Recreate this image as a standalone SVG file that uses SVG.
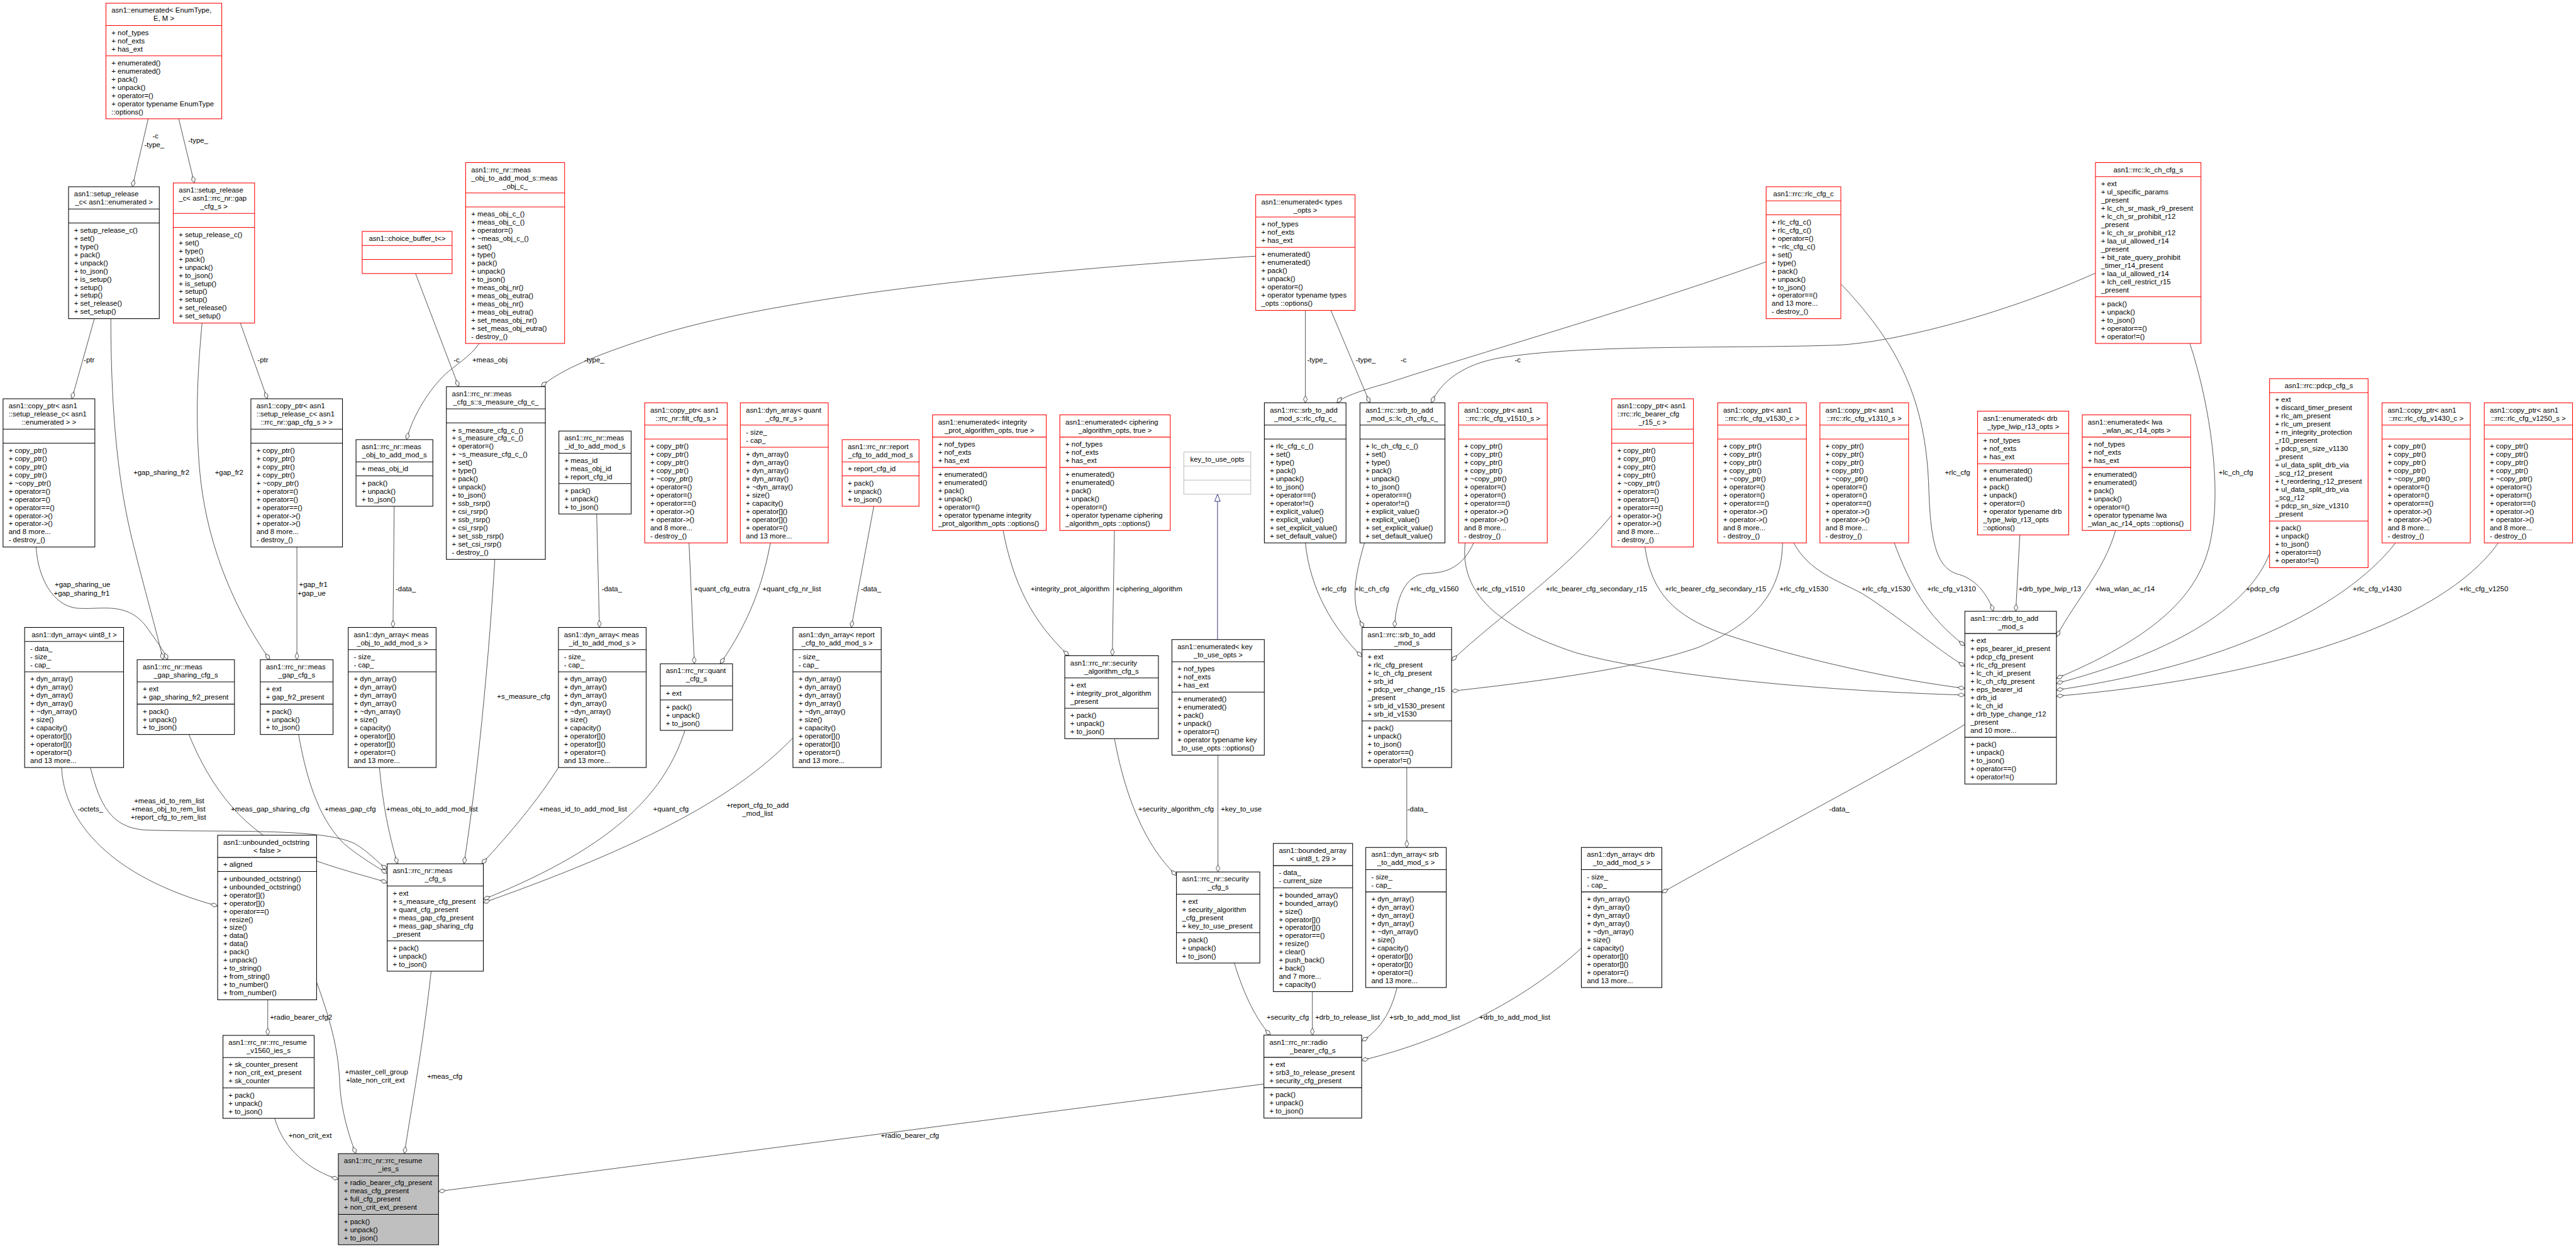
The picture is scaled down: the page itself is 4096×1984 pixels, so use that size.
<svg xmlns="http://www.w3.org/2000/svg" width="4096" height="1984" viewBox="0 0 4096 1984">
<style>
.node rect{fill:#fff;stroke:#000;stroke-width:1.2}
.node path{fill:none;stroke:#000;stroke-width:1.2}
.red rect,.red path{stroke:#ff0000}
.grey rect,.grey path{stroke:#bfbfbf}
.main rect{fill:#bfbfbf}
text{font-family:"Liberation Sans",Arial,Helvetica,sans-serif;font-size:12.9px;fill:#000}
.c{text-anchor:middle}
.edges path{fill:none;stroke:#404040;stroke-width:1;marker-end:url(#od)}
.edges path.inh{stroke:#191970;marker-end:url(#tri)}
.edges text{text-anchor:middle}
</style>
<defs>
<marker id="od" markerUnits="userSpaceOnUse" markerWidth="15" markerHeight="9" refX="14" refY="4.5" orient="auto" viewBox="0 0 15 9"><path d="M1,4.5 L7.5,1 L14,4.5 L7.5,8 Z" fill="#fff" stroke="#404040" stroke-width="1"/></marker>
<marker id="tri" markerUnits="userSpaceOnUse" markerWidth="15" markerHeight="12" refX="14" refY="6" orient="auto" viewBox="0 0 15 12"><path d="M1,1 L14,6 L1,11 Z" fill="#fff" stroke="#191970" stroke-width="1"/></marker>
</defs>
<rect width="4096" height="1984" fill="#fff"/>
<g transform="scale(0.88257)">
<g id="edges" class="edges">
<path d="M267,214 L238.5,336.4"/><text x="280" y="249.6">-c</text><text x="278" y="264.6">-type_</text>
<path d="M322,214 L350,329.6"/><text x="357" y="257.6">-type_</text>
<path d="M170,574 L129.5,718.3"/><text x="160.5" y="653.1">-ptr</text>
<path d="M433,581.9 L481.6,718.3"/><text x="473.5" y="653.1">-ptr</text>
<path d="M748.7,492.7 L826.4,696.5"/><text x="822.6" y="653.1">-c</text>
<path d="M863.4,618.6 C850,640 815,662 802.7,673.7 C775,700 745,745 732.4,791.9"/><text x="882.6" y="653.1">+meas_obj</text>
<path d="M2262.3,461.4 C1900,485 1400,530 1160,611.7 C1080,638 1010,665 975,696.5"/><text x="1070.5" y="653.1">-type_</text>
<path d="M199.7,574 C200,760 215,880 240,980 C260,1060 280,1130 294,1188.3"/><text x="290.7" y="855.6">+gap_sharing_fr2</text>
<path d="M65.1,985.3 C68,1040 95,1090 136.9,1095.3 C180,1100 230,1080 266.3,1132.6 C280,1152 294,1170 302,1188.3"/><text x="148.7" y="1057.7">+gap_sharing_ue</text><text x="147.2" y="1072.7">+gap_sharing_fr1</text>
<path d="M364,581.9 C355,680 352,760 360,850 C370,960 410,1080 486,1188.3"/><text x="412.8" y="855.6">+gap_fr2</text>
<path d="M534.9,985.3 L534.9,1188.3"/><text x="564.5" y="1057.7">+gap_fr1</text><text x="561.5" y="1072.7">+gap_ue</text>
<path d="M710.2,911.9 L708,1130.2"/><text x="731" y="1065.5">-data_</text>
<path d="M1075,925.8 L1080,1130.2"/><text x="1102.3" y="1065.5">-data_</text>
<path d="M1241.4,977.9 L1251,1195.6"/><text x="1300.6" y="1065.5">+quant_cfg_eutra</text>
<path d="M1387.9,977.9 C1375,1050 1350,1120 1297.6,1195.6"/><text x="1426.3" y="1065.5">+quant_cfg_nr_list</text>
<path d="M1574.3,911.9 L1533.6,1130.2"/><text x="1569.1" y="1065.5">-data_</text>
<path d="M1807.3,955.5 C1825,1050 1860,1120 1925.7,1181.1"/><text x="1927.9" y="1065.5">+integrity_prot_algorithm</text>
<path d="M2007.8,955.5 L2004,1181.1"/><text x="2070" y="1065.5">+ciphering_algorithm</text>
<path class="inh" d="M2193.5,1152 L2193.5,890.1"/>
<path d="M2351.8,559.1 L2351.8,725.6"/><text x="2373" y="653.1">-type_</text>
<path d="M2397.7,559.1 L2468,725.6"/><text x="2460.6" y="653.1">-type_</text>
<path d="M3181.9,471.6 C2950,555 2650,640 2500,690 Q2420,712 2408.8,725.6"/><text x="2528.6" y="653.1">-c</text>
<path d="M3775.2,492 C3600,570 3400,620 3300,622 C3100,628 2850,620 2700,645 C2620,660 2590,700 2579,725.6"/><text x="2734.3" y="653.1">-c</text>
<path d="M3316.5,511.3 C3420,620 3470,720 3475,880 C3478,980 3490,1025 3530,1035 C3565,1045 3585,1080 3591,1101.1"/><text x="3526.6" y="855.6">+rlc_cfg</text>
<path d="M3945.3,618.6 C3985,740 4000,880 3985,960 C3970,1060 3900,1140 3704.9,1222"/><text x="4028.2" y="855.6">+lc_ch_cfg</text>
<path d="M2655,977.9 C2635,1020 2610,1032 2570,1033 C2530,1035 2515,1080 2512.4,1130.2"/><text x="2584.1" y="1065.5">+rlc_cfg_v1560</text>
<path d="M2639.6,977.9 C2630,1070 2700,1130 2840,1176 C3000,1220 3300,1245 3539.9,1252"/><text x="2703.2" y="1065.5">+rlc_cfg_v1510</text>
<path d="M2903.7,928 C2820,1030 2700,1110 2615.2,1190"/><text x="2876.3" y="1065.5">+rlc_bearer_cfg_secondary_r15</text>
<path d="M2963.6,985.3 C2975,1070 3020,1110 3100,1140 C3250,1190 3420,1225 3539.9,1240"/><text x="3090.9" y="1065.5">+rlc_bearer_cfg_secondary_r15</text>
<path d="M3211.5,977.9 C3210,1060 3170,1120 3060,1166 C2950,1205 2750,1230 2615.2,1245"/><text x="3249.9" y="1065.5">+rlc_cfg_v1530</text>
<path d="M3231.5,977.9 C3260,1030 3310,1045 3355.8,1069.6 C3420,1110 3490,1170 3539.9,1200"/><text x="3397.9" y="1065.5">+rlc_cfg_v1530</text>
<path d="M3412.7,977.9 C3440,1050 3470,1110 3539.9,1163"/><text x="3516" y="1065.5">+rlc_cfg_v1310</text>
<path d="M3639,963.5 L3631.7,1101.1"/><text x="3693" y="1065.5">+drb_type_lwip_r13</text>
<path d="M3811.4,955.5 C3790,1030 3740,1080 3704.9,1147"/><text x="3828.5" y="1065.5">+lwa_wlan_ac_r14</text>
<path d="M4088.9,997 C4050,1100 3900,1180 3704.9,1231"/><text x="4076.3" y="1065.5">+pdcp_cfg</text>
<path d="M4316,977.9 C4220,1100 4000,1200 3704.9,1243"/><text x="4282.7" y="1065.5">+rlc_cfg_v1430</text>
<path d="M4501,977.9 C4400,1120 4100,1220 3704.9,1254"/><text x="4475" y="1065.5">+rlc_cfg_v1250</text>
<path d="M891.5,1007.6 C880,1200 860,1400 836,1555.9"/><text x="943.3" y="1259.3">+s_measure_cfg</text>
<path d="M111,1382.5 C115,1480 200,1580 392.1,1632"/><text x="162.8" y="1461.5">-octets_</text>
<path d="M162.8,1382.5 C180,1450 200,1490 260,1495 C400,1500 580,1490 640,1520 C665,1535 680,1553 697.6,1566"/><text x="304.8" y="1446.9">+meas_id_to_rem_list</text><text x="303.3" y="1461.5">+meas_obj_to_rem_list</text><text x="303.3" y="1476">+report_cfg_to_rem_list</text>
<path d="M340.3,1323 C380,1420 440,1500 540,1540 C620,1570 670,1580 697.6,1590"/><text x="486.8" y="1461.5">+meas_gap_sharing_cfg</text>
<path d="M537.9,1323 C555,1420 580,1480 620,1520 C650,1545 680,1562 697.6,1573"/><text x="631" y="1461.5">+meas_gap_cfg</text>
<path d="M683.6,1382.5 C690,1450 700,1500 716,1555.9"/><text x="778.3" y="1461.5">+meas_obj_to_add_mod_list</text>
<path d="M1006.1,1382.5 C970,1440 920,1500 868,1555.9"/><text x="1050.5" y="1461.5">+meas_id_to_add_mod_list</text>
<path d="M1234,1315.6 C1200,1420 1120,1520 870.8,1620"/><text x="1208.8" y="1461.5">+quant_cfg</text>
<path d="M1428.6,1329 C1340,1420 1200,1510 870.8,1626"/><text x="1364.9" y="1454.6">+report_cfg_to_add</text><text x="1364.9" y="1469.2">_mod_list</text>
<path d="M482.4,1800.9 L482.4,1865"/><text x="542.3" y="1836.3">+radio_bearer_cfg2</text>
<path d="M570.4,1769 C600,1850 610,1900 612,1950 C614,2000 630,2050 641,2078"/><text x="678.4" y="1935.2">+master_cell_group</text><text x="676.2" y="1950.4">+late_non_crit_ext</text>
<path d="M776.8,1749.4 C760,1900 740,2000 728.7,2078"/><text x="801.2" y="1943.5">+meas_cfg</text>
<path d="M495,2014.4 C510,2070 560,2110 609.6,2124"/><text x="558.6" y="2049.3">+non_crit_ext</text>
<path d="M2277.1,1952.6 L790.1,2146"/><text x="1639.4" y="2049.3">+radio_bearer_cfg</text>
<path d="M2007.8,1330.5 C2030,1450 2070,1530 2119.5,1577"/><text x="2118.8" y="1461.5">+security_algorithm_cfg</text>
<path d="M2194.3,1360.2 L2194.3,1570.6"/><text x="2236.4" y="1461.5">+key_to_use</text>
<path d="M2223.9,1734.7 C2240,1790 2265,1840 2289,1864.5"/><text x="2320" y="1836.3">+security_cfg</text>
<path d="M2364.4,1786.2 L2364.4,1864.5"/><text x="2427.6" y="1836.3">+drb_to_release_list</text>
<path d="M2516.8,1778.8 C2505,1830 2480,1860 2453.2,1875"/><text x="2566.7" y="1836.3">+srb_to_add_mod_list</text>
<path d="M2849,1707.8 C2760,1790 2620,1870 2453.2,1910"/><text x="2729" y="1836.3">+drb_to_add_mod_list</text>
<path d="M2534.5,1382.5 L2534.5,1526.5"/><text x="2553.8" y="1461.5">-data_</text>
<path d="M3539.9,1305 C3400,1390 3150,1520 2994,1608"/><text x="3313.6" y="1461.5">-data_</text>
<path d="M2351.8,977.9 C2360,1060 2400,1130 2453.9,1183"/><text x="2402.9" y="1065.5">+rlc_cfg</text>
<path d="M2458.3,977.9 C2440,1040 2432,1090 2457,1130.2"/><text x="2471.7" y="1065.5">+lc_ch_cfg</text>
</g>

<g id="enumerated_EnumType" class="node red">
<rect x="190.9" y="5.8" width="208.6" height="208.2"/>
<path d="M190.9 45.8H399.5M190.9 100.5H399.5"/>
<text x="200.9" y="23">asn1::enumerated&lt; EnumType,</text>
<text class="c" x="295.2" y="37.7">E, M &gt;</text>
<text x="200.9" y="63"><tspan x="200.9">+ nof_types</tspan><tspan x="200.9" dy="14.7">+ nof_exts</tspan><tspan x="200.9" dy="14.7">+ has_ext</tspan></text>
<text x="200.9" y="117.7"><tspan x="200.9">+ enumerated()</tspan><tspan x="200.9" dy="14.7">+ enumerated()</tspan><tspan x="200.9" dy="14.7">+ pack()</tspan><tspan x="200.9" dy="14.7">+ unpack()</tspan><tspan x="200.9" dy="14.7">+ operator=()</tspan><tspan x="200.9" dy="14.7">+ operator typename EnumType</tspan><tspan x="200.9" dy="14.7">::options()</tspan></text>
</g>

<g id="setup_release_enumerated" class="node">
<rect x="123.5" y="336.4" width="163.5" height="237.6"/>
<path d="M123.5 376.4H287M123.5 401.7H287"/>
<text x="133.5" y="353.6">asn1::setup_release</text>
<text class="c" x="205.25" y="368.3">_c&lt; asn1::enumerated &gt;</text>
<text x="133.5" y="418.9"><tspan x="133.5">+ setup_release_c()</tspan><tspan x="133.5" dy="14.7">+ set()</tspan><tspan x="133.5" dy="14.7">+ type()</tspan><tspan x="133.5" dy="14.7">+ pack()</tspan><tspan x="133.5" dy="14.7">+ unpack()</tspan><tspan x="133.5" dy="14.7">+ to_json()</tspan><tspan x="133.5" dy="14.7">+ is_setup()</tspan><tspan x="133.5" dy="14.7">+ setup()</tspan><tspan x="133.5" dy="14.7">+ setup()</tspan><tspan x="133.5" dy="14.7">+ set_release()</tspan><tspan x="133.5" dy="14.7">+ set_setup()</tspan></text>
</g>

<g id="setup_release_gap" class="node red">
<rect x="312.2" y="329.6" width="146.5" height="252.3"/>
<path d="M312.2 384.3H458.7M312.2 409.6H458.7"/>
<text x="322.2" y="346.8">asn1::setup_release</text>
<text x="322.2" y="361.5">_c&lt; asn1::rrc_nr::gap</text>
<text class="c" x="385.45" y="376.2">_cfg_s &gt;</text>
<text x="322.2" y="426.8"><tspan x="322.2">+ setup_release_c()</tspan><tspan x="322.2" dy="14.7">+ set()</tspan><tspan x="322.2" dy="14.7">+ type()</tspan><tspan x="322.2" dy="14.7">+ pack()</tspan><tspan x="322.2" dy="14.7">+ unpack()</tspan><tspan x="322.2" dy="14.7">+ to_json()</tspan><tspan x="322.2" dy="14.7">+ is_setup()</tspan><tspan x="322.2" dy="14.7">+ setup()</tspan><tspan x="322.2" dy="14.7">+ setup()</tspan><tspan x="322.2" dy="14.7">+ set_release()</tspan><tspan x="322.2" dy="14.7">+ set_setup()</tspan></text>
</g>

<g id="choice_buffer" class="node red">
<rect x="652.5" y="416.8" width="162" height="75.9"/>
<path d="M652.5 442.1H814.5M652.5 467.4H814.5"/>
<text class="c" x="733.5" y="434">asn1::choice_buffer_t&lt;&gt;</text>
</g>

<g id="meas_obj_c" class="node red">
<rect x="838.9" y="292.8" width="178.3" height="325.8"/>
<path d="M838.9 347.5H1017.2M838.9 372.8H1017.2"/>
<text x="848.9" y="310">asn1::rrc_nr::meas</text>
<text x="848.9" y="324.7">_obj_to_add_mod_s::meas</text>
<text class="c" x="928.05" y="339.4">_obj_c_</text>
<text x="848.9" y="390"><tspan x="848.9">+ meas_obj_c_()</tspan><tspan x="848.9" dy="14.7">+ meas_obj_c_()</tspan><tspan x="848.9" dy="14.7">+ operator=()</tspan><tspan x="848.9" dy="14.7">+ ~meas_obj_c_()</tspan><tspan x="848.9" dy="14.7">+ set()</tspan><tspan x="848.9" dy="14.7">+ type()</tspan><tspan x="848.9" dy="14.7">+ pack()</tspan><tspan x="848.9" dy="14.7">+ unpack()</tspan><tspan x="848.9" dy="14.7">+ to_json()</tspan><tspan x="848.9" dy="14.7">+ meas_obj_nr()</tspan><tspan x="848.9" dy="14.7">+ meas_obj_eutra()</tspan><tspan x="848.9" dy="14.7">+ meas_obj_nr()</tspan><tspan x="848.9" dy="14.7">+ meas_obj_eutra()</tspan><tspan x="848.9" dy="14.7">+ set_meas_obj_nr()</tspan><tspan x="848.9" dy="14.7">+ set_meas_obj_eutra()</tspan><tspan x="848.9" dy="14.7">- destroy_()</tspan></text>
</g>

<g id="enumerated_types_opts" class="node red">
<rect x="2262.3" y="350.9" width="179" height="208.2"/>
<path d="M2262.3 390.9H2441.3M2262.3 445.6H2441.3"/>
<text x="2272.3" y="368.1">asn1::enumerated&lt; types</text>
<text class="c" x="2351.8" y="382.8">_opts &gt;</text>
<text x="2272.3" y="408.1"><tspan x="2272.3">+ nof_types</tspan><tspan x="2272.3" dy="14.7">+ nof_exts</tspan><tspan x="2272.3" dy="14.7">+ has_ext</tspan></text>
<text x="2272.3" y="462.8"><tspan x="2272.3">+ enumerated()</tspan><tspan x="2272.3" dy="14.7">+ enumerated()</tspan><tspan x="2272.3" dy="14.7">+ pack()</tspan><tspan x="2272.3" dy="14.7">+ unpack()</tspan><tspan x="2272.3" dy="14.7">+ operator=()</tspan><tspan x="2272.3" dy="14.7">+ operator typename types</tspan><tspan x="2272.3" dy="14.7">_opts ::options()</tspan></text>
</g>

<g id="rlc_cfg_c" class="node red">
<rect x="3181.9" y="336.4" width="134.6" height="237.6"/>
<path d="M3181.9 361.7H3316.5M3181.9 387H3316.5"/>
<text class="c" x="3249.2" y="353.6">asn1::rrc::rlc_cfg_c</text>
<text x="3191.9" y="404.2"><tspan x="3191.9">+ rlc_cfg_c()</tspan><tspan x="3191.9" dy="14.7">+ rlc_cfg_c()</tspan><tspan x="3191.9" dy="14.7">+ operator=()</tspan><tspan x="3191.9" dy="14.7">+ ~rlc_cfg_c()</tspan><tspan x="3191.9" dy="14.7">+ set()</tspan><tspan x="3191.9" dy="14.7">+ type()</tspan><tspan x="3191.9" dy="14.7">+ pack()</tspan><tspan x="3191.9" dy="14.7">+ unpack()</tspan><tspan x="3191.9" dy="14.7">+ to_json()</tspan><tspan x="3191.9" dy="14.7">+ operator==()</tspan><tspan x="3191.9" dy="14.7">and 13 more...</tspan><tspan x="3191.9" dy="14.7">- destroy_()</tspan></text>
</g>

<g id="lc_ch_cfg_s" class="node red">
<rect x="3775.2" y="292.8" width="190.1" height="325.8"/>
<path d="M3775.2 318.1H3965.3M3775.2 534.5H3965.3"/>
<text class="c" x="3870.25" y="310">asn1::rrc::lc_ch_cfg_s</text>
<text x="3785.2" y="335.3"><tspan x="3785.2">+ ext</tspan><tspan x="3785.2" dy="14.7">+ ul_specific_params</tspan><tspan x="3785.2" dy="14.7">_present</tspan><tspan x="3785.2" dy="14.7">+ lc_ch_sr_mask_r9_present</tspan><tspan x="3785.2" dy="14.7">+ lc_ch_sr_prohibit_r12</tspan><tspan x="3785.2" dy="14.7">_present</tspan><tspan x="3785.2" dy="14.7">+ lc_ch_sr_prohibit_r12</tspan><tspan x="3785.2" dy="14.7">+ laa_ul_allowed_r14</tspan><tspan x="3785.2" dy="14.7">_present</tspan><tspan x="3785.2" dy="14.7">+ bit_rate_query_prohibit</tspan><tspan x="3785.2" dy="14.7">_timer_r14_present</tspan><tspan x="3785.2" dy="14.7">+ laa_ul_allowed_r14</tspan><tspan x="3785.2" dy="14.7">+ lch_cell_restrict_r15</tspan><tspan x="3785.2" dy="14.7">_present</tspan></text>
<text x="3785.2" y="551.7"><tspan x="3785.2">+ pack()</tspan><tspan x="3785.2" dy="14.7">+ unpack()</tspan><tspan x="3785.2" dy="14.7">+ to_json()</tspan><tspan x="3785.2" dy="14.7">+ operator==()</tspan><tspan x="3785.2" dy="14.7">+ operator!=()</tspan></text>
</g>

<g id="copy_ptr_setup_release_enumerated" class="node">
<rect x="5.5" y="718.3" width="165.4" height="267"/>
<path d="M5.5 773H170.9M5.5 798.3H170.9"/>
<text x="15.5" y="735.5">asn1::copy_ptr&lt; asn1</text>
<text x="15.5" y="750.2">::setup_release_c&lt; asn1</text>
<text class="c" x="88.2" y="764.9">::enumerated &gt; &gt;</text>
<text x="15.5" y="815.5"><tspan x="15.5">+ copy_ptr()</tspan><tspan x="15.5" dy="14.7">+ copy_ptr()</tspan><tspan x="15.5" dy="14.7">+ copy_ptr()</tspan><tspan x="15.5" dy="14.7">+ copy_ptr()</tspan><tspan x="15.5" dy="14.7">+ ~copy_ptr()</tspan><tspan x="15.5" dy="14.7">+ operator=()</tspan><tspan x="15.5" dy="14.7">+ operator=()</tspan><tspan x="15.5" dy="14.7">+ operator==()</tspan><tspan x="15.5" dy="14.7">+ operator-&gt;()</tspan><tspan x="15.5" dy="14.7">+ operator-&gt;()</tspan><tspan x="15.5" dy="14.7">and 8 more...</tspan><tspan x="15.5" dy="14.7">- destroy_()</tspan></text>
</g>

<g id="copy_ptr_setup_release_gap" class="node">
<rect x="452" y="718.3" width="165" height="267"/>
<path d="M452 773H617M452 798.3H617"/>
<text x="462" y="735.5">asn1::copy_ptr&lt; asn1</text>
<text x="462" y="750.2">::setup_release_c&lt; asn1</text>
<text class="c" x="534.5" y="764.9">::rrc_nr::gap_cfg_s &gt; &gt;</text>
<text x="462" y="815.5"><tspan x="462">+ copy_ptr()</tspan><tspan x="462" dy="14.7">+ copy_ptr()</tspan><tspan x="462" dy="14.7">+ copy_ptr()</tspan><tspan x="462" dy="14.7">+ copy_ptr()</tspan><tspan x="462" dy="14.7">+ ~copy_ptr()</tspan><tspan x="462" dy="14.7">+ operator=()</tspan><tspan x="462" dy="14.7">+ operator=()</tspan><tspan x="462" dy="14.7">+ operator==()</tspan><tspan x="462" dy="14.7">+ operator-&gt;()</tspan><tspan x="462" dy="14.7">+ operator-&gt;()</tspan><tspan x="462" dy="14.7">and 8 more...</tspan><tspan x="462" dy="14.7">- destroy_()</tspan></text>
</g>

<g id="s_measure_cfg_c" class="node">
<rect x="804.2" y="696.5" width="178.3" height="311.1"/>
<path d="M804.2 736.5H982.5M804.2 761.8H982.5"/>
<text x="814.2" y="713.7">asn1::rrc_nr::meas</text>
<text class="c" x="893.35" y="728.4">_cfg_s::s_measure_cfg_c_</text>
<text x="814.2" y="779"><tspan x="814.2">+ s_measure_cfg_c_()</tspan><tspan x="814.2" dy="14.7">+ s_measure_cfg_c_()</tspan><tspan x="814.2" dy="14.7">+ operator=()</tspan><tspan x="814.2" dy="14.7">+ ~s_measure_cfg_c_()</tspan><tspan x="814.2" dy="14.7">+ set()</tspan><tspan x="814.2" dy="14.7">+ type()</tspan><tspan x="814.2" dy="14.7">+ pack()</tspan><tspan x="814.2" dy="14.7">+ unpack()</tspan><tspan x="814.2" dy="14.7">+ to_json()</tspan><tspan x="814.2" dy="14.7">+ ssb_rsrp()</tspan><tspan x="814.2" dy="14.7">+ csi_rsrp()</tspan><tspan x="814.2" dy="14.7">+ ssb_rsrp()</tspan><tspan x="814.2" dy="14.7">+ csi_rsrp()</tspan><tspan x="814.2" dy="14.7">+ set_ssb_rsrp()</tspan><tspan x="814.2" dy="14.7">+ set_csi_rsrp()</tspan><tspan x="814.2" dy="14.7">- destroy_()</tspan></text>
</g>

<g id="meas_obj_to_add_mod_s" class="node">
<rect x="641.4" y="791.9" width="138.4" height="120"/>
<path d="M641.4 831.9H779.8M641.4 857.2H779.8"/>
<text x="651.4" y="809.1">asn1::rrc_nr::meas</text>
<text class="c" x="710.6" y="823.8">_obj_to_add_mod_s</text>
<text x="651.4" y="849.1">+ meas_obj_id</text>
<text x="651.4" y="874.4"><tspan x="651.4">+ pack()</tspan><tspan x="651.4" dy="14.7">+ unpack()</tspan><tspan x="651.4" dy="14.7">+ to_json()</tspan></text>
</g>

<g id="meas_id_to_add_mod_s" class="node">
<rect x="1006.9" y="776.4" width="130.2" height="149.4"/>
<path d="M1006.9 816.4H1137.1M1006.9 871.1H1137.1"/>
<text x="1016.9" y="793.6">asn1::rrc_nr::meas</text>
<text class="c" x="1072" y="808.3">_id_to_add_mod_s</text>
<text x="1016.9" y="833.6"><tspan x="1016.9">+ meas_id</tspan><tspan x="1016.9" dy="14.7">+ meas_obj_id</tspan><tspan x="1016.9" dy="14.7">+ report_cfg_id</tspan></text>
<text x="1016.9" y="888.3"><tspan x="1016.9">+ pack()</tspan><tspan x="1016.9" dy="14.7">+ unpack()</tspan><tspan x="1016.9" dy="14.7">+ to_json()</tspan></text>
</g>

<g id="copy_ptr_filt_cfg_s" class="node red">
<rect x="1161.5" y="725.6" width="148.7" height="252.3"/>
<path d="M1161.5 765.6H1310.2M1161.5 790.9H1310.2"/>
<text x="1171.5" y="742.8">asn1::copy_ptr&lt; asn1</text>
<text class="c" x="1235.85" y="757.5">::rrc_nr::filt_cfg_s &gt;</text>
<text x="1171.5" y="808.1"><tspan x="1171.5">+ copy_ptr()</tspan><tspan x="1171.5" dy="14.7">+ copy_ptr()</tspan><tspan x="1171.5" dy="14.7">+ copy_ptr()</tspan><tspan x="1171.5" dy="14.7">+ copy_ptr()</tspan><tspan x="1171.5" dy="14.7">+ ~copy_ptr()</tspan><tspan x="1171.5" dy="14.7">+ operator=()</tspan><tspan x="1171.5" dy="14.7">+ operator=()</tspan><tspan x="1171.5" dy="14.7">+ operator==()</tspan><tspan x="1171.5" dy="14.7">+ operator-&gt;()</tspan><tspan x="1171.5" dy="14.7">+ operator-&gt;()</tspan><tspan x="1171.5" dy="14.7">and 8 more...</tspan><tspan x="1171.5" dy="14.7">- destroy_()</tspan></text>
</g>

<g id="dyn_array_quant_cfg_nr_s" class="node red">
<rect x="1333.9" y="725.6" width="158.3" height="252.3"/>
<path d="M1333.9 765.6H1492.2M1333.9 805.6H1492.2"/>
<text x="1343.9" y="742.8">asn1::dyn_array&lt; quant</text>
<text class="c" x="1413.05" y="757.5">_cfg_nr_s &gt;</text>
<text x="1343.9" y="782.8"><tspan x="1343.9">- size_</tspan><tspan x="1343.9" dy="14.7">- cap_</tspan></text>
<text x="1343.9" y="822.8"><tspan x="1343.9">+ dyn_array()</tspan><tspan x="1343.9" dy="14.7">+ dyn_array()</tspan><tspan x="1343.9" dy="14.7">+ dyn_array()</tspan><tspan x="1343.9" dy="14.7">+ dyn_array()</tspan><tspan x="1343.9" dy="14.7">+ ~dyn_array()</tspan><tspan x="1343.9" dy="14.7">+ size()</tspan><tspan x="1343.9" dy="14.7">+ capacity()</tspan><tspan x="1343.9" dy="14.7">+ operator[]()</tspan><tspan x="1343.9" dy="14.7">+ operator[]()</tspan><tspan x="1343.9" dy="14.7">+ operator=()</tspan><tspan x="1343.9" dy="14.7">and 13 more...</tspan></text>
</g>

<g id="report_cfg_to_add_mod_s" class="node red">
<rect x="1517.3" y="791.9" width="138.4" height="120"/>
<path d="M1517.3 831.9H1655.7M1517.3 857.2H1655.7"/>
<text x="1527.3" y="809.1">asn1::rrc_nr::report</text>
<text class="c" x="1586.5" y="823.8">_cfg_to_add_mod_s</text>
<text x="1527.3" y="849.1">+ report_cfg_id</text>
<text x="1527.3" y="874.4"><tspan x="1527.3">+ pack()</tspan><tspan x="1527.3" dy="14.7">+ unpack()</tspan><tspan x="1527.3" dy="14.7">+ to_json()</tspan></text>
</g>

<g id="enumerated_integrity" class="node red">
<rect x="1680.1" y="747.3" width="204.9" height="208.2"/>
<path d="M1680.1 787.3H1885M1680.1 842H1885"/>
<text x="1690.1" y="764.5">asn1::enumerated&lt; integrity</text>
<text class="c" x="1782.55" y="779.2">_prot_algorithm_opts, true &gt;</text>
<text x="1690.1" y="804.5"><tspan x="1690.1">+ nof_types</tspan><tspan x="1690.1" dy="14.7">+ nof_exts</tspan><tspan x="1690.1" dy="14.7">+ has_ext</tspan></text>
<text x="1690.1" y="859.2"><tspan x="1690.1">+ enumerated()</tspan><tspan x="1690.1" dy="14.7">+ enumerated()</tspan><tspan x="1690.1" dy="14.7">+ pack()</tspan><tspan x="1690.1" dy="14.7">+ unpack()</tspan><tspan x="1690.1" dy="14.7">+ operator=()</tspan><tspan x="1690.1" dy="14.7">+ operator typename integrity</tspan><tspan x="1690.1" dy="14.7">_prot_algorithm_opts ::options()</tspan></text>
</g>

<g id="enumerated_ciphering" class="node red">
<rect x="1909.4" y="747.3" width="199" height="208.2"/>
<path d="M1909.4 787.3H2108.4M1909.4 842H2108.4"/>
<text x="1919.4" y="764.5">asn1::enumerated&lt; ciphering</text>
<text class="c" x="2008.9" y="779.2">_algorithm_opts, true &gt;</text>
<text x="1919.4" y="804.5"><tspan x="1919.4">+ nof_types</tspan><tspan x="1919.4" dy="14.7">+ nof_exts</tspan><tspan x="1919.4" dy="14.7">+ has_ext</tspan></text>
<text x="1919.4" y="859.2"><tspan x="1919.4">+ enumerated()</tspan><tspan x="1919.4" dy="14.7">+ enumerated()</tspan><tspan x="1919.4" dy="14.7">+ pack()</tspan><tspan x="1919.4" dy="14.7">+ unpack()</tspan><tspan x="1919.4" dy="14.7">+ operator=()</tspan><tspan x="1919.4" dy="14.7">+ operator typename ciphering</tspan><tspan x="1919.4" dy="14.7">_algorithm_opts ::options()</tspan></text>
</g>

<g id="key_to_use_opts" class="node grey">
<rect x="2132.8" y="814.2" width="120.6" height="75.9"/>
<path d="M2132.8 839.5H2253.4M2132.8 864.8H2253.4"/>
<text class="c" x="2193.1" y="831.4">key_to_use_opts</text>
</g>

<g id="srb_rlc_cfg_c" class="node">
<rect x="2277.9" y="725.6" width="147.1" height="252.3"/>
<path d="M2277.9 765.6H2425M2277.9 790.9H2425"/>
<text x="2287.9" y="742.8">asn1::rrc::srb_to_add</text>
<text class="c" x="2351.45" y="757.5">_mod_s::rlc_cfg_c_</text>
<text x="2287.9" y="808.1"><tspan x="2287.9">+ rlc_cfg_c_()</tspan><tspan x="2287.9" dy="14.7">+ set()</tspan><tspan x="2287.9" dy="14.7">+ type()</tspan><tspan x="2287.9" dy="14.7">+ pack()</tspan><tspan x="2287.9" dy="14.7">+ unpack()</tspan><tspan x="2287.9" dy="14.7">+ to_json()</tspan><tspan x="2287.9" dy="14.7">+ operator==()</tspan><tspan x="2287.9" dy="14.7">+ operator!=()</tspan><tspan x="2287.9" dy="14.7">+ explicit_value()</tspan><tspan x="2287.9" dy="14.7">+ explicit_value()</tspan><tspan x="2287.9" dy="14.7">+ set_explicit_value()</tspan><tspan x="2287.9" dy="14.7">+ set_default_value()</tspan></text>
</g>

<g id="srb_lc_ch_cfg_c" class="node">
<rect x="2450.2" y="725.6" width="153.1" height="252.3"/>
<path d="M2450.2 765.6H2603.3M2450.2 790.9H2603.3"/>
<text x="2460.2" y="742.8">asn1::rrc::srb_to_add</text>
<text class="c" x="2526.75" y="757.5">_mod_s::lc_ch_cfg_c_</text>
<text x="2460.2" y="808.1"><tspan x="2460.2">+ lc_ch_cfg_c_()</tspan><tspan x="2460.2" dy="14.7">+ set()</tspan><tspan x="2460.2" dy="14.7">+ type()</tspan><tspan x="2460.2" dy="14.7">+ pack()</tspan><tspan x="2460.2" dy="14.7">+ unpack()</tspan><tspan x="2460.2" dy="14.7">+ to_json()</tspan><tspan x="2460.2" dy="14.7">+ operator==()</tspan><tspan x="2460.2" dy="14.7">+ operator!=()</tspan><tspan x="2460.2" dy="14.7">+ explicit_value()</tspan><tspan x="2460.2" dy="14.7">+ explicit_value()</tspan><tspan x="2460.2" dy="14.7">+ set_explicit_value()</tspan><tspan x="2460.2" dy="14.7">+ set_default_value()</tspan></text>
</g>

<g id="copy_ptr_rlc_cfg_v1510" class="node red">
<rect x="2627.8" y="725.6" width="159.8" height="252.3"/>
<path d="M2627.8 765.6H2787.6M2627.8 790.9H2787.6"/>
<text x="2637.8" y="742.8">asn1::copy_ptr&lt; asn1</text>
<text class="c" x="2707.7" y="757.5">::rrc::rlc_cfg_v1510_s &gt;</text>
<text x="2637.8" y="808.1"><tspan x="2637.8">+ copy_ptr()</tspan><tspan x="2637.8" dy="14.7">+ copy_ptr()</tspan><tspan x="2637.8" dy="14.7">+ copy_ptr()</tspan><tspan x="2637.8" dy="14.7">+ copy_ptr()</tspan><tspan x="2637.8" dy="14.7">+ ~copy_ptr()</tspan><tspan x="2637.8" dy="14.7">+ operator=()</tspan><tspan x="2637.8" dy="14.7">+ operator=()</tspan><tspan x="2637.8" dy="14.7">+ operator==()</tspan><tspan x="2637.8" dy="14.7">+ operator-&gt;()</tspan><tspan x="2637.8" dy="14.7">+ operator-&gt;()</tspan><tspan x="2637.8" dy="14.7">and 8 more...</tspan><tspan x="2637.8" dy="14.7">- destroy_()</tspan></text>
</g>

<g id="copy_ptr_rlc_bearer_cfg_r15" class="node red">
<rect x="2903.7" y="718.3" width="147.2" height="267"/>
<path d="M2903.7 773H3050.9M2903.7 798.3H3050.9"/>
<text x="2913.7" y="735.5">asn1::copy_ptr&lt; asn1</text>
<text x="2913.7" y="750.2">::rrc::rlc_bearer_cfg</text>
<text class="c" x="2977.3" y="764.9">_r15_c &gt;</text>
<text x="2913.7" y="815.5"><tspan x="2913.7">+ copy_ptr()</tspan><tspan x="2913.7" dy="14.7">+ copy_ptr()</tspan><tspan x="2913.7" dy="14.7">+ copy_ptr()</tspan><tspan x="2913.7" dy="14.7">+ copy_ptr()</tspan><tspan x="2913.7" dy="14.7">+ ~copy_ptr()</tspan><tspan x="2913.7" dy="14.7">+ operator=()</tspan><tspan x="2913.7" dy="14.7">+ operator=()</tspan><tspan x="2913.7" dy="14.7">+ operator==()</tspan><tspan x="2913.7" dy="14.7">+ operator-&gt;()</tspan><tspan x="2913.7" dy="14.7">+ operator-&gt;()</tspan><tspan x="2913.7" dy="14.7">and 8 more...</tspan><tspan x="2913.7" dy="14.7">- destroy_()</tspan></text>
</g>

<g id="copy_ptr_rlc_cfg_v1530" class="node red">
<rect x="3094.6" y="725.6" width="159.8" height="252.3"/>
<path d="M3094.6 765.6H3254.4M3094.6 790.9H3254.4"/>
<text x="3104.6" y="742.8">asn1::copy_ptr&lt; asn1</text>
<text class="c" x="3174.5" y="757.5">::rrc::rlc_cfg_v1530_c &gt;</text>
<text x="3104.6" y="808.1"><tspan x="3104.6">+ copy_ptr()</tspan><tspan x="3104.6" dy="14.7">+ copy_ptr()</tspan><tspan x="3104.6" dy="14.7">+ copy_ptr()</tspan><tspan x="3104.6" dy="14.7">+ copy_ptr()</tspan><tspan x="3104.6" dy="14.7">+ ~copy_ptr()</tspan><tspan x="3104.6" dy="14.7">+ operator=()</tspan><tspan x="3104.6" dy="14.7">+ operator=()</tspan><tspan x="3104.6" dy="14.7">+ operator==()</tspan><tspan x="3104.6" dy="14.7">+ operator-&gt;()</tspan><tspan x="3104.6" dy="14.7">+ operator-&gt;()</tspan><tspan x="3104.6" dy="14.7">and 8 more...</tspan><tspan x="3104.6" dy="14.7">- destroy_()</tspan></text>
</g>

<g id="copy_ptr_rlc_cfg_v1310" class="node red">
<rect x="3278.8" y="725.6" width="159.8" height="252.3"/>
<path d="M3278.8 765.6H3438.6M3278.8 790.9H3438.6"/>
<text x="3288.8" y="742.8">asn1::copy_ptr&lt; asn1</text>
<text class="c" x="3358.7" y="757.5">::rrc::rlc_cfg_v1310_s &gt;</text>
<text x="3288.8" y="808.1"><tspan x="3288.8">+ copy_ptr()</tspan><tspan x="3288.8" dy="14.7">+ copy_ptr()</tspan><tspan x="3288.8" dy="14.7">+ copy_ptr()</tspan><tspan x="3288.8" dy="14.7">+ copy_ptr()</tspan><tspan x="3288.8" dy="14.7">+ ~copy_ptr()</tspan><tspan x="3288.8" dy="14.7">+ operator=()</tspan><tspan x="3288.8" dy="14.7">+ operator=()</tspan><tspan x="3288.8" dy="14.7">+ operator==()</tspan><tspan x="3288.8" dy="14.7">+ operator-&gt;()</tspan><tspan x="3288.8" dy="14.7">+ operator-&gt;()</tspan><tspan x="3288.8" dy="14.7">and 8 more...</tspan><tspan x="3288.8" dy="14.7">- destroy_()</tspan></text>
</g>

<g id="enumerated_drb_type_lwip" class="node red">
<rect x="3562.9" y="740.6" width="164.2" height="222.9"/>
<path d="M3562.9 780.6H3727.1M3562.9 835.3H3727.1"/>
<text x="3572.9" y="757.8">asn1::enumerated&lt; drb</text>
<text class="c" x="3645" y="772.5">_type_lwip_r13_opts &gt;</text>
<text x="3572.9" y="797.8"><tspan x="3572.9">+ nof_types</tspan><tspan x="3572.9" dy="14.7">+ nof_exts</tspan><tspan x="3572.9" dy="14.7">+ has_ext</tspan></text>
<text x="3572.9" y="852.5"><tspan x="3572.9">+ enumerated()</tspan><tspan x="3572.9" dy="14.7">+ enumerated()</tspan><tspan x="3572.9" dy="14.7">+ pack()</tspan><tspan x="3572.9" dy="14.7">+ unpack()</tspan><tspan x="3572.9" dy="14.7">+ operator=()</tspan><tspan x="3572.9" dy="14.7">+ operator typename drb</tspan><tspan x="3572.9" dy="14.7">_type_lwip_r13_opts</tspan><tspan x="3572.9" dy="14.7">::options()</tspan></text>
</g>

<g id="enumerated_lwa_wlan_ac" class="node red">
<rect x="3751.5" y="747.3" width="195.3" height="208.2"/>
<path d="M3751.5 787.3H3946.8M3751.5 842H3946.8"/>
<text x="3761.5" y="764.5">asn1::enumerated&lt; lwa</text>
<text class="c" x="3849.15" y="779.2">_wlan_ac_r14_opts &gt;</text>
<text x="3761.5" y="804.5"><tspan x="3761.5">+ nof_types</tspan><tspan x="3761.5" dy="14.7">+ nof_exts</tspan><tspan x="3761.5" dy="14.7">+ has_ext</tspan></text>
<text x="3761.5" y="859.2"><tspan x="3761.5">+ enumerated()</tspan><tspan x="3761.5" dy="14.7">+ enumerated()</tspan><tspan x="3761.5" dy="14.7">+ pack()</tspan><tspan x="3761.5" dy="14.7">+ unpack()</tspan><tspan x="3761.5" dy="14.7">+ operator=()</tspan><tspan x="3761.5" dy="14.7">+ operator typename lwa</tspan><tspan x="3761.5" dy="14.7">_wlan_ac_r14_opts ::options()</tspan></text>
</g>

<g id="pdcp_cfg_s" class="node red">
<rect x="4088.9" y="682" width="177.5" height="340.5"/>
<path d="M4088.9 707.3H4266.4M4088.9 938.4H4266.4"/>
<text class="c" x="4177.65" y="699.2">asn1::rrc::pdcp_cfg_s</text>
<text x="4098.9" y="724.5"><tspan x="4098.9">+ ext</tspan><tspan x="4098.9" dy="14.7">+ discard_timer_present</tspan><tspan x="4098.9" dy="14.7">+ rlc_am_present</tspan><tspan x="4098.9" dy="14.7">+ rlc_um_present</tspan><tspan x="4098.9" dy="14.7">+ rn_integrity_protection</tspan><tspan x="4098.9" dy="14.7">_r10_present</tspan><tspan x="4098.9" dy="14.7">+ pdcp_sn_size_v1130</tspan><tspan x="4098.9" dy="14.7">_present</tspan><tspan x="4098.9" dy="14.7">+ ul_data_split_drb_via</tspan><tspan x="4098.9" dy="14.7">_scg_r12_present</tspan><tspan x="4098.9" dy="14.7">+ t_reordering_r12_present</tspan><tspan x="4098.9" dy="14.7">+ ul_data_split_drb_via</tspan><tspan x="4098.9" dy="14.7">_scg_r12</tspan><tspan x="4098.9" dy="14.7">+ pdcp_sn_size_v1310</tspan><tspan x="4098.9" dy="14.7">_present</tspan></text>
<text x="4098.9" y="955.6"><tspan x="4098.9">+ pack()</tspan><tspan x="4098.9" dy="14.7">+ unpack()</tspan><tspan x="4098.9" dy="14.7">+ to_json()</tspan><tspan x="4098.9" dy="14.7">+ operator==()</tspan><tspan x="4098.9" dy="14.7">+ operator!=()</tspan></text>
</g>

<g id="copy_ptr_rlc_cfg_v1430" class="node red">
<rect x="4291.6" y="725.6" width="159" height="252.3"/>
<path d="M4291.6 765.6H4450.6M4291.6 790.9H4450.6"/>
<text x="4301.6" y="742.8">asn1::copy_ptr&lt; asn1</text>
<text class="c" x="4371.1" y="757.5">::rrc::rlc_cfg_v1430_c &gt;</text>
<text x="4301.6" y="808.1"><tspan x="4301.6">+ copy_ptr()</tspan><tspan x="4301.6" dy="14.7">+ copy_ptr()</tspan><tspan x="4301.6" dy="14.7">+ copy_ptr()</tspan><tspan x="4301.6" dy="14.7">+ copy_ptr()</tspan><tspan x="4301.6" dy="14.7">+ ~copy_ptr()</tspan><tspan x="4301.6" dy="14.7">+ operator=()</tspan><tspan x="4301.6" dy="14.7">+ operator=()</tspan><tspan x="4301.6" dy="14.7">+ operator==()</tspan><tspan x="4301.6" dy="14.7">+ operator-&gt;()</tspan><tspan x="4301.6" dy="14.7">+ operator-&gt;()</tspan><tspan x="4301.6" dy="14.7">and 8 more...</tspan><tspan x="4301.6" dy="14.7">- destroy_()</tspan></text>
</g>

<g id="copy_ptr_rlc_cfg_v1250" class="node red">
<rect x="4475.8" y="725.6" width="159" height="252.3"/>
<path d="M4475.8 765.6H4634.8M4475.8 790.9H4634.8"/>
<text x="4485.8" y="742.8">asn1::copy_ptr&lt; asn1</text>
<text class="c" x="4555.3" y="757.5">::rrc::rlc_cfg_v1250_s &gt;</text>
<text x="4485.8" y="808.1"><tspan x="4485.8">+ copy_ptr()</tspan><tspan x="4485.8" dy="14.7">+ copy_ptr()</tspan><tspan x="4485.8" dy="14.7">+ copy_ptr()</tspan><tspan x="4485.8" dy="14.7">+ copy_ptr()</tspan><tspan x="4485.8" dy="14.7">+ ~copy_ptr()</tspan><tspan x="4485.8" dy="14.7">+ operator=()</tspan><tspan x="4485.8" dy="14.7">+ operator=()</tspan><tspan x="4485.8" dy="14.7">+ operator==()</tspan><tspan x="4485.8" dy="14.7">+ operator-&gt;()</tspan><tspan x="4485.8" dy="14.7">+ operator-&gt;()</tspan><tspan x="4485.8" dy="14.7">and 8 more...</tspan><tspan x="4485.8" dy="14.7">- destroy_()</tspan></text>
</g>

<g id="dyn_array_uint8" class="node">
<rect x="44.4" y="1130.2" width="178.3" height="252.3"/>
<path d="M44.4 1155.5H222.7M44.4 1210.2H222.7"/>
<text class="c" x="133.55" y="1147.4">asn1::dyn_array&lt; uint8_t &gt;</text>
<text x="54.4" y="1172.7"><tspan x="54.4">- data_</tspan><tspan x="54.4" dy="14.7">- size_</tspan><tspan x="54.4" dy="14.7">- cap_</tspan></text>
<text x="54.4" y="1227.4"><tspan x="54.4">+ dyn_array()</tspan><tspan x="54.4" dy="14.7">+ dyn_array()</tspan><tspan x="54.4" dy="14.7">+ dyn_array()</tspan><tspan x="54.4" dy="14.7">+ dyn_array()</tspan><tspan x="54.4" dy="14.7">+ ~dyn_array()</tspan><tspan x="54.4" dy="14.7">+ size()</tspan><tspan x="54.4" dy="14.7">+ capacity()</tspan><tspan x="54.4" dy="14.7">+ operator[]()</tspan><tspan x="54.4" dy="14.7">+ operator[]()</tspan><tspan x="54.4" dy="14.7">+ operator=()</tspan><tspan x="54.4" dy="14.7">and 13 more...</tspan></text>
</g>

<g id="meas_gap_sharing_cfg_s" class="node">
<rect x="247.1" y="1188.3" width="175.3" height="134.7"/>
<path d="M247.1 1228.3H422.4M247.1 1268.3H422.4"/>
<text x="257.1" y="1205.5">asn1::rrc_nr::meas</text>
<text class="c" x="334.75" y="1220.2">_gap_sharing_cfg_s</text>
<text x="257.1" y="1245.5"><tspan x="257.1">+ ext</tspan><tspan x="257.1" dy="14.7">+ gap_sharing_fr2_present</tspan></text>
<text x="257.1" y="1285.5"><tspan x="257.1">+ pack()</tspan><tspan x="257.1" dy="14.7">+ unpack()</tspan><tspan x="257.1" dy="14.7">+ to_json()</tspan></text>
</g>

<g id="meas_gap_cfg_s" class="node">
<rect x="469" y="1188.3" width="131" height="134.7"/>
<path d="M469 1228.3H600M469 1268.3H600"/>
<text x="479" y="1205.5">asn1::rrc_nr::meas</text>
<text class="c" x="534.5" y="1220.2">_gap_cfg_s</text>
<text x="479" y="1245.5"><tspan x="479">+ ext</tspan><tspan x="479" dy="14.7">+ gap_fr2_present</tspan></text>
<text x="479" y="1285.5"><tspan x="479">+ pack()</tspan><tspan x="479" dy="14.7">+ unpack()</tspan><tspan x="479" dy="14.7">+ to_json()</tspan></text>
</g>

<g id="dyn_array_meas_obj" class="node">
<rect x="627.4" y="1130.2" width="158.3" height="252.3"/>
<path d="M627.4 1170.2H785.7M627.4 1210.2H785.7"/>
<text x="637.4" y="1147.4">asn1::dyn_array&lt; meas</text>
<text class="c" x="706.55" y="1162.1">_obj_to_add_mod_s &gt;</text>
<text x="637.4" y="1187.4"><tspan x="637.4">- size_</tspan><tspan x="637.4" dy="14.7">- cap_</tspan></text>
<text x="637.4" y="1227.4"><tspan x="637.4">+ dyn_array()</tspan><tspan x="637.4" dy="14.7">+ dyn_array()</tspan><tspan x="637.4" dy="14.7">+ dyn_array()</tspan><tspan x="637.4" dy="14.7">+ dyn_array()</tspan><tspan x="637.4" dy="14.7">+ ~dyn_array()</tspan><tspan x="637.4" dy="14.7">+ size()</tspan><tspan x="637.4" dy="14.7">+ capacity()</tspan><tspan x="637.4" dy="14.7">+ operator[]()</tspan><tspan x="637.4" dy="14.7">+ operator[]()</tspan><tspan x="637.4" dy="14.7">+ operator=()</tspan><tspan x="637.4" dy="14.7">and 13 more...</tspan></text>
</g>

<g id="dyn_array_meas_id" class="node">
<rect x="1006.1" y="1130.2" width="158" height="252.3"/>
<path d="M1006.1 1170.2H1164.1M1006.1 1210.2H1164.1"/>
<text x="1016.1" y="1147.4">asn1::dyn_array&lt; meas</text>
<text class="c" x="1085.1" y="1162.1">_id_to_add_mod_s &gt;</text>
<text x="1016.1" y="1187.4"><tspan x="1016.1">- size_</tspan><tspan x="1016.1" dy="14.7">- cap_</tspan></text>
<text x="1016.1" y="1227.4"><tspan x="1016.1">+ dyn_array()</tspan><tspan x="1016.1" dy="14.7">+ dyn_array()</tspan><tspan x="1016.1" dy="14.7">+ dyn_array()</tspan><tspan x="1016.1" dy="14.7">+ dyn_array()</tspan><tspan x="1016.1" dy="14.7">+ ~dyn_array()</tspan><tspan x="1016.1" dy="14.7">+ size()</tspan><tspan x="1016.1" dy="14.7">+ capacity()</tspan><tspan x="1016.1" dy="14.7">+ operator[]()</tspan><tspan x="1016.1" dy="14.7">+ operator[]()</tspan><tspan x="1016.1" dy="14.7">+ operator=()</tspan><tspan x="1016.1" dy="14.7">and 13 more...</tspan></text>
</g>

<g id="quant_cfg_s" class="node">
<rect x="1189.6" y="1195.6" width="130.2" height="120"/>
<path d="M1189.6 1235.6H1319.8M1189.6 1260.9H1319.8"/>
<text x="1199.6" y="1212.8">asn1::rrc_nr::quant</text>
<text class="c" x="1254.7" y="1227.5">_cfg_s</text>
<text x="1199.6" y="1252.8">+ ext</text>
<text x="1199.6" y="1278.1"><tspan x="1199.6">+ pack()</tspan><tspan x="1199.6" dy="14.7">+ unpack()</tspan><tspan x="1199.6" dy="14.7">+ to_json()</tspan></text>
</g>

<g id="dyn_array_report_cfg" class="node">
<rect x="1428.6" y="1130.2" width="159" height="252.3"/>
<path d="M1428.6 1170.2H1587.6M1428.6 1210.2H1587.6"/>
<text x="1438.6" y="1147.4">asn1::dyn_array&lt; report</text>
<text class="c" x="1508.1" y="1162.1">_cfg_to_add_mod_s &gt;</text>
<text x="1438.6" y="1187.4"><tspan x="1438.6">- size_</tspan><tspan x="1438.6" dy="14.7">- cap_</tspan></text>
<text x="1438.6" y="1227.4"><tspan x="1438.6">+ dyn_array()</tspan><tspan x="1438.6" dy="14.7">+ dyn_array()</tspan><tspan x="1438.6" dy="14.7">+ dyn_array()</tspan><tspan x="1438.6" dy="14.7">+ dyn_array()</tspan><tspan x="1438.6" dy="14.7">+ ~dyn_array()</tspan><tspan x="1438.6" dy="14.7">+ size()</tspan><tspan x="1438.6" dy="14.7">+ capacity()</tspan><tspan x="1438.6" dy="14.7">+ operator[]()</tspan><tspan x="1438.6" dy="14.7">+ operator[]()</tspan><tspan x="1438.6" dy="14.7">+ operator=()</tspan><tspan x="1438.6" dy="14.7">and 13 more...</tspan></text>
</g>

<g id="security_algorithm_cfg_s" class="node">
<rect x="1918.3" y="1181.1" width="168.7" height="149.4"/>
<path d="M1918.3 1221.1H2087M1918.3 1275.8H2087"/>
<text x="1928.3" y="1198.3">asn1::rrc_nr::security</text>
<text class="c" x="2002.65" y="1213">_algorithm_cfg_s</text>
<text x="1928.3" y="1238.3"><tspan x="1928.3">+ ext</tspan><tspan x="1928.3" dy="14.7">+ integrity_prot_algorithm</tspan><tspan x="1928.3" dy="14.7">_present</tspan></text>
<text x="1928.3" y="1293"><tspan x="1928.3">+ pack()</tspan><tspan x="1928.3" dy="14.7">+ unpack()</tspan><tspan x="1928.3" dy="14.7">+ to_json()</tspan></text>
</g>

<g id="enumerated_key_to_use" class="node">
<rect x="2111.4" y="1152" width="166.4" height="208.2"/>
<path d="M2111.4 1192H2277.8M2111.4 1246.7H2277.8"/>
<text x="2121.4" y="1169.2">asn1::enumerated&lt; key</text>
<text class="c" x="2194.6" y="1183.9">_to_use_opts &gt;</text>
<text x="2121.4" y="1209.2"><tspan x="2121.4">+ nof_types</tspan><tspan x="2121.4" dy="14.7">+ nof_exts</tspan><tspan x="2121.4" dy="14.7">+ has_ext</tspan></text>
<text x="2121.4" y="1263.9"><tspan x="2121.4">+ enumerated()</tspan><tspan x="2121.4" dy="14.7">+ enumerated()</tspan><tspan x="2121.4" dy="14.7">+ pack()</tspan><tspan x="2121.4" dy="14.7">+ unpack()</tspan><tspan x="2121.4" dy="14.7">+ operator=()</tspan><tspan x="2121.4" dy="14.7">+ operator typename key</tspan><tspan x="2121.4" dy="14.7">_to_use_opts ::options()</tspan></text>
</g>

<g id="srb_to_add_mod_s" class="node">
<rect x="2453.9" y="1130.2" width="161.3" height="252.3"/>
<path d="M2453.9 1170.2H2615.2M2453.9 1298.4H2615.2"/>
<text x="2463.9" y="1147.4">asn1::rrc::srb_to_add</text>
<text class="c" x="2534.55" y="1162.1">_mod_s</text>
<text x="2463.9" y="1187.4"><tspan x="2463.9">+ ext</tspan><tspan x="2463.9" dy="14.7">+ rlc_cfg_present</tspan><tspan x="2463.9" dy="14.7">+ lc_ch_cfg_present</tspan><tspan x="2463.9" dy="14.7">+ srb_id</tspan><tspan x="2463.9" dy="14.7">+ pdcp_ver_change_r15</tspan><tspan x="2463.9" dy="14.7">_present</tspan><tspan x="2463.9" dy="14.7">+ srb_id_v1530_present</tspan><tspan x="2463.9" dy="14.7">+ srb_id_v1530</tspan></text>
<text x="2463.9" y="1315.6"><tspan x="2463.9">+ pack()</tspan><tspan x="2463.9" dy="14.7">+ unpack()</tspan><tspan x="2463.9" dy="14.7">+ to_json()</tspan><tspan x="2463.9" dy="14.7">+ operator==()</tspan><tspan x="2463.9" dy="14.7">+ operator!=()</tspan></text>
</g>

<g id="drb_to_add_mod_s" class="node">
<rect x="3539.9" y="1101.1" width="165" height="311.1"/>
<path d="M3539.9 1141.1H3704.9M3539.9 1328.1H3704.9"/>
<text x="3549.9" y="1118.3">asn1::rrc::drb_to_add</text>
<text class="c" x="3622.4" y="1133">_mod_s</text>
<text x="3549.9" y="1158.3"><tspan x="3549.9">+ ext</tspan><tspan x="3549.9" dy="14.7">+ eps_bearer_id_present</tspan><tspan x="3549.9" dy="14.7">+ pdcp_cfg_present</tspan><tspan x="3549.9" dy="14.7">+ rlc_cfg_present</tspan><tspan x="3549.9" dy="14.7">+ lc_ch_id_present</tspan><tspan x="3549.9" dy="14.7">+ lc_ch_cfg_present</tspan><tspan x="3549.9" dy="14.7">+ eps_bearer_id</tspan><tspan x="3549.9" dy="14.7">+ drb_id</tspan><tspan x="3549.9" dy="14.7">+ lc_ch_id</tspan><tspan x="3549.9" dy="14.7">+ drb_type_change_r12</tspan><tspan x="3549.9" dy="14.7">_present</tspan><tspan x="3549.9" dy="14.7">and 10 more...</tspan></text>
<text x="3549.9" y="1345.3"><tspan x="3549.9">+ pack()</tspan><tspan x="3549.9" dy="14.7">+ unpack()</tspan><tspan x="3549.9" dy="14.7">+ to_json()</tspan><tspan x="3549.9" dy="14.7">+ operator==()</tspan><tspan x="3549.9" dy="14.7">+ operator!=()</tspan></text>
</g>

<g id="unbounded_octstring" class="node">
<rect x="392.1" y="1504.5" width="178.3" height="296.4"/>
<path d="M392.1 1544.5H570.4M392.1 1569.8H570.4"/>
<text x="402.1" y="1521.7">asn1::unbounded_octstring</text>
<text class="c" x="481.25" y="1536.4">&lt; false &gt;</text>
<text x="402.1" y="1561.7">+ aligned</text>
<text x="402.1" y="1587"><tspan x="402.1">+ unbounded_octstring()</tspan><tspan x="402.1" dy="14.7">+ unbounded_octstring()</tspan><tspan x="402.1" dy="14.7">+ operator[]()</tspan><tspan x="402.1" dy="14.7">+ operator[]()</tspan><tspan x="402.1" dy="14.7">+ operator==()</tspan><tspan x="402.1" dy="14.7">+ resize()</tspan><tspan x="402.1" dy="14.7">+ size()</tspan><tspan x="402.1" dy="14.7">+ data()</tspan><tspan x="402.1" dy="14.7">+ data()</tspan><tspan x="402.1" dy="14.7">+ pack()</tspan><tspan x="402.1" dy="14.7">+ unpack()</tspan><tspan x="402.1" dy="14.7">+ to_string()</tspan><tspan x="402.1" dy="14.7">+ from_string()</tspan><tspan x="402.1" dy="14.7">+ to_number()</tspan><tspan x="402.1" dy="14.7">+ from_number()</tspan></text>
</g>

<g id="meas_cfg_s" class="node">
<rect x="697.6" y="1555.9" width="173.2" height="193.5"/>
<path d="M697.6 1595.9H870.8M697.6 1694.7H870.8"/>
<text x="707.6" y="1573.1">asn1::rrc_nr::meas</text>
<text class="c" x="784.2" y="1587.8">_cfg_s</text>
<text x="707.6" y="1613.1"><tspan x="707.6">+ ext</tspan><tspan x="707.6" dy="14.7">+ s_measure_cfg_present</tspan><tspan x="707.6" dy="14.7">+ quant_cfg_present</tspan><tspan x="707.6" dy="14.7">+ meas_gap_cfg_present</tspan><tspan x="707.6" dy="14.7">+ meas_gap_sharing_cfg</tspan><tspan x="707.6" dy="14.7">_present</tspan></text>
<text x="707.6" y="1711.9"><tspan x="707.6">+ pack()</tspan><tspan x="707.6" dy="14.7">+ unpack()</tspan><tspan x="707.6" dy="14.7">+ to_json()</tspan></text>
</g>

<g id="bounded_array" class="node">
<rect x="2294.1" y="1519.2" width="142.8" height="267"/>
<path d="M2294.1 1559.2H2436.9M2294.1 1599.2H2436.9"/>
<text x="2304.1" y="1536.4">asn1::bounded_array</text>
<text class="c" x="2365.5" y="1551.1">&lt; uint8_t, 29 &gt;</text>
<text x="2304.1" y="1576.4"><tspan x="2304.1">- data_</tspan><tspan x="2304.1" dy="14.7">- current_size</tspan></text>
<text x="2304.1" y="1616.4"><tspan x="2304.1">+ bounded_array()</tspan><tspan x="2304.1" dy="14.7">+ bounded_array()</tspan><tspan x="2304.1" dy="14.7">+ size()</tspan><tspan x="2304.1" dy="14.7">+ operator[]()</tspan><tspan x="2304.1" dy="14.7">+ operator[]()</tspan><tspan x="2304.1" dy="14.7">+ operator==()</tspan><tspan x="2304.1" dy="14.7">+ resize()</tspan><tspan x="2304.1" dy="14.7">+ clear()</tspan><tspan x="2304.1" dy="14.7">+ push_back()</tspan><tspan x="2304.1" dy="14.7">+ back()</tspan><tspan x="2304.1" dy="14.7">and 7 more...</tspan><tspan x="2304.1" dy="14.7">+ capacity()</tspan></text>
</g>

<g id="dyn_array_srb" class="node">
<rect x="2460.6" y="1526.5" width="145" height="252.3"/>
<path d="M2460.6 1566.5H2605.6M2460.6 1606.5H2605.6"/>
<text x="2470.6" y="1543.7">asn1::dyn_array&lt; srb</text>
<text class="c" x="2533.1" y="1558.4">_to_add_mod_s &gt;</text>
<text x="2470.6" y="1583.7"><tspan x="2470.6">- size_</tspan><tspan x="2470.6" dy="14.7">- cap_</tspan></text>
<text x="2470.6" y="1623.7"><tspan x="2470.6">+ dyn_array()</tspan><tspan x="2470.6" dy="14.7">+ dyn_array()</tspan><tspan x="2470.6" dy="14.7">+ dyn_array()</tspan><tspan x="2470.6" dy="14.7">+ dyn_array()</tspan><tspan x="2470.6" dy="14.7">+ ~dyn_array()</tspan><tspan x="2470.6" dy="14.7">+ size()</tspan><tspan x="2470.6" dy="14.7">+ capacity()</tspan><tspan x="2470.6" dy="14.7">+ operator[]()</tspan><tspan x="2470.6" dy="14.7">+ operator[]()</tspan><tspan x="2470.6" dy="14.7">+ operator=()</tspan><tspan x="2470.6" dy="14.7">and 13 more...</tspan></text>
</g>

<g id="dyn_array_drb" class="node">
<rect x="2849" y="1526.5" width="145" height="252.3"/>
<path d="M2849 1566.5H2994M2849 1606.5H2994"/>
<text x="2859" y="1543.7">asn1::dyn_array&lt; drb</text>
<text class="c" x="2921.5" y="1558.4">_to_add_mod_s &gt;</text>
<text x="2859" y="1583.7"><tspan x="2859">- size_</tspan><tspan x="2859" dy="14.7">- cap_</tspan></text>
<text x="2859" y="1623.7"><tspan x="2859">+ dyn_array()</tspan><tspan x="2859" dy="14.7">+ dyn_array()</tspan><tspan x="2859" dy="14.7">+ dyn_array()</tspan><tspan x="2859" dy="14.7">+ dyn_array()</tspan><tspan x="2859" dy="14.7">+ ~dyn_array()</tspan><tspan x="2859" dy="14.7">+ size()</tspan><tspan x="2859" dy="14.7">+ capacity()</tspan><tspan x="2859" dy="14.7">+ operator[]()</tspan><tspan x="2859" dy="14.7">+ operator[]()</tspan><tspan x="2859" dy="14.7">+ operator=()</tspan><tspan x="2859" dy="14.7">and 13 more...</tspan></text>
</g>

<g id="security_cfg_s" class="node">
<rect x="2119.5" y="1570.6" width="150.2" height="164.1"/>
<path d="M2119.5 1610.6H2269.7M2119.5 1680H2269.7"/>
<text x="2129.5" y="1587.8">asn1::rrc_nr::security</text>
<text class="c" x="2194.6" y="1602.5">_cfg_s</text>
<text x="2129.5" y="1627.8"><tspan x="2129.5">+ ext</tspan><tspan x="2129.5" dy="14.7">+ security_algorithm</tspan><tspan x="2129.5" dy="14.7">_cfg_present</tspan><tspan x="2129.5" dy="14.7">+ key_to_use_present</tspan></text>
<text x="2129.5" y="1697.2"><tspan x="2129.5">+ pack()</tspan><tspan x="2129.5" dy="14.7">+ unpack()</tspan><tspan x="2129.5" dy="14.7">+ to_json()</tspan></text>
</g>

<g id="rrc_resume_v1560_ies_s" class="node">
<rect x="401.7" y="1865" width="164.3" height="149.4"/>
<path d="M401.7 1905H566M401.7 1959.7H566"/>
<text x="411.7" y="1882.2">asn1::rrc_nr::rrc_resume</text>
<text class="c" x="483.85" y="1896.9">_v1560_ies_s</text>
<text x="411.7" y="1922.2"><tspan x="411.7">+ sk_counter_present</tspan><tspan x="411.7" dy="14.7">+ non_crit_ext_present</tspan><tspan x="411.7" dy="14.7">+ sk_counter</tspan></text>
<text x="411.7" y="1976.9"><tspan x="411.7">+ pack()</tspan><tspan x="411.7" dy="14.7">+ unpack()</tspan><tspan x="411.7" dy="14.7">+ to_json()</tspan></text>
</g>

<g id="radio_bearer_cfg_s" class="node">
<rect x="2277.1" y="1864.5" width="176.1" height="149.4"/>
<path d="M2277.1 1904.5H2453.2M2277.1 1959.2H2453.2"/>
<text x="2287.1" y="1881.7">asn1::rrc_nr::radio</text>
<text class="c" x="2365.15" y="1896.4">_bearer_cfg_s</text>
<text x="2287.1" y="1921.7"><tspan x="2287.1">+ ext</tspan><tspan x="2287.1" dy="14.7">+ srb3_to_release_present</tspan><tspan x="2287.1" dy="14.7">+ security_cfg_present</tspan></text>
<text x="2287.1" y="1976.4"><tspan x="2287.1">+ pack()</tspan><tspan x="2287.1" dy="14.7">+ unpack()</tspan><tspan x="2287.1" dy="14.7">+ to_json()</tspan></text>
</g>

<g id="rrc_resume_ies_s" class="node main">
<rect x="609.6" y="2078" width="180.5" height="164.1"/>
<path d="M609.6 2118H790.1M609.6 2187.4H790.1"/>
<text x="619.6" y="2095.2">asn1::rrc_nr::rrc_resume</text>
<text class="c" x="699.85" y="2109.9">_ies_s</text>
<text x="619.6" y="2135.2"><tspan x="619.6">+ radio_bearer_cfg_present</tspan><tspan x="619.6" dy="14.7">+ meas_cfg_present</tspan><tspan x="619.6" dy="14.7">+ full_cfg_present</tspan><tspan x="619.6" dy="14.7">+ non_crit_ext_present</tspan></text>
<text x="619.6" y="2204.6"><tspan x="619.6">+ pack()</tspan><tspan x="619.6" dy="14.7">+ unpack()</tspan><tspan x="619.6" dy="14.7">+ to_json()</tspan></text>
</g>
</g>
</svg>
